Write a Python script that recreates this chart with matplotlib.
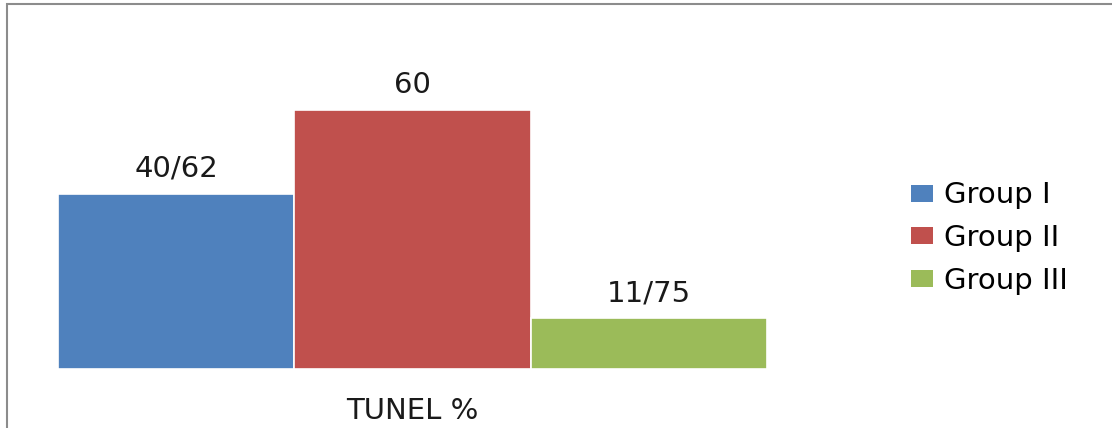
import matplotlib.pyplot as plt
from matplotlib.patches import Rectangle, Patch

# data
groups = ['Group I', 'Group II', 'Group III']
values = [40.62, 60, 11.75]
labels = ['40/62', '60', '11/75']
colors = ['#4F81BD', '#C0504D', '#9BBB59']
category = 'TUNEL %'

plt.rcParams['font.family'] = ['DejaVu Sans']
fs = 21

fig = plt.figure(figsize=(11.12, 4.28), dpi=100)

# outer border of the chart area
fig.patches.append(Rectangle((7 / 1112, -0.1), 1.2, (428 - 4) / 428 + 0.1,
                             transform=fig.transFigure, fill=False,
                             edgecolor='#8c8c8c', linewidth=1.5))

ax = fig.add_axes([58 / 1112, 1 - 369 / 428, (767 - 58) / 1112, (369 - 110) / 428])
x = list(range(len(values)))
bars = ax.bar(x, values, width=1.0, color=colors, edgecolor='white', linewidth=1.2)

for xi, v, lab in zip(x, values, labels):
    ax.annotate(lab, (xi, v), xytext=(0, 8), textcoords='offset points',
                ha='center', va='bottom', fontsize=fs, color='#1a1a1a')

ax.set_xlim(-0.5, 2.5)
ax.set_ylim(0, 60)
ax.axis('off')

fig.text((58 + 767) / 2 / 1112, 1 - 411 / 428, category, ha='center', va='center',
         fontsize=fs, color='#1a1a1a')

handles = [Patch(facecolor=c, edgecolor='none') for c in colors]
fig.legend(handles, groups, loc='center left', bbox_to_anchor=(905 / 1112, 1 - 238 / 428),
           frameon=False, fontsize=fs, handlelength=0.76, handleheight=0.52,
           handletextpad=0.38, labelspacing=0.5, borderaxespad=0, borderpad=0.2)

fig.savefig('out.png', dpi=100)
